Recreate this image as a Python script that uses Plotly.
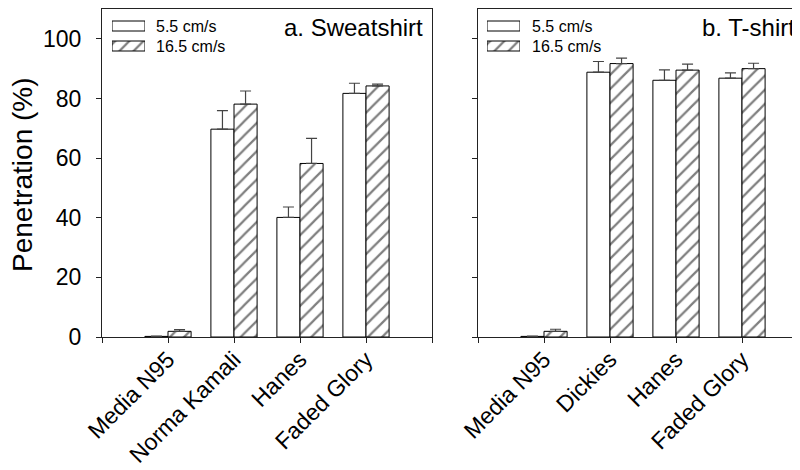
import plotly.graph_objects as go

# ---- data ----
cats_a = ["Media N95", "Norma Kamali", "Hanes", "Faded Glory"]
low_a = [0.2, 69.7, 40.1, 81.7]
low_a_err = [0.1, 6.2, 3.5, 3.4]
high_a = [1.9, 78.1, 58.2, 84.2]
high_a_err = [0.6, 4.4, 8.4, 0.6]

cats_b = ["Media N95", "Dickies", "Hanes", "Faded Glory"]
low_b = [0.2, 88.8, 86.1, 86.8]
low_b_err = [0.1, 3.6, 3.5, 1.8]
high_b = [1.9, 91.7, 89.5, 90.0]
high_b_err = [0.7, 1.8, 2.0, 1.8]

series_names = ["5.5 cm/s", "16.5 cm/s"]
panel_titles = ["a. Sweatshirt", "b. T-shirt"]
yticks = [0, 20, 40, 60, 80, 100]

FONT = "Liberation Sans, Arial, sans-serif"
LINE = "#222222"

# ---- layout geometry (screen pixels; page body has an 8px margin) ----
OFF = 8
W, H = 800 - OFF, 470 - OFF
L = 102 - OFF
T = 9 - OFF
B = H - (337 - OFF)
PW = W - L
PH = H - T - B

def px_x(p):
    return (p - OFF - L) / PW

def px_y(p):
    return (H - B - (p - OFF)) / PH

fig = go.Figure()

pos_a = [i + 1 for i in range(len(cats_a))]
pos_b = [i + 1 for i in range(len(cats_b))]

PATTERN = dict(shape="/", size=10, solidity=0.22, fgcolor="black",
               bgcolor="white")

def add_panel(pos, low, low_err, high, high_err, xa, ya):
    fig.add_trace(go.Bar(
        x=pos, y=low, name=series_names[0], xaxis=xa, yaxis=ya,
        marker=dict(color="white", line=dict(color="black", width=1)),
        error_y=dict(type="data", symmetric=False, array=low_err,
                     arrayminus=[0] * len(low), color="#444444",
                     thickness=1.2, width=5.5),
        showlegend=False, hoverinfo="skip"))
    fig.add_trace(go.Bar(
        x=pos, y=high, name=series_names[1], xaxis=xa, yaxis=ya,
        marker=dict(color="white", line=dict(color="black", width=1),
                    pattern=PATTERN),
        error_y=dict(type="data", symmetric=False, array=high_err,
                     arrayminus=[0] * len(high), color="#444444",
                     thickness=1.2, width=5.5),
        showlegend=False, hoverinfo="skip"))

add_panel(pos_a, low_a, low_a_err, high_a, high_a_err, "x", "y")
add_panel(pos_b, low_b, low_b_err, high_b, high_b_err, "x2", "y2")

# legend swatches on small overlay axes
for xa, ya in (("x3", "y3"), ("x4", "y4")):
    fig.add_trace(go.Bar(
        x=[1], y=[1], orientation="h", xaxis=xa, yaxis=ya, width=0.5,
        marker=dict(color="white", line=dict(color="black", width=1)),
        showlegend=False, hoverinfo="skip"))
    fig.add_trace(go.Bar(
        x=[1], y=[0], orientation="h", xaxis=xa, yaxis=ya, width=0.5,
        marker=dict(color="white", line=dict(color="black", width=1),
                    pattern=PATTERN),
        showlegend=False, hoverinfo="skip"))

common_x = dict(showline=True, linecolor=LINE, linewidth=1, mirror=True,
                ticks="outside", ticklen=5, tickcolor=LINE, showgrid=False,
                zeroline=False, tickangle=-45, ticklabelstandoff=-6,
                tickfont=dict(family=FONT, size=23, color="black"))
common_y = dict(showline=True, linecolor=LINE, linewidth=1,
                ticks="outside", ticklen=5, tickcolor=LINE, showgrid=False,
                zeroline=False, range=[0, 110], tickvals=yticks,
                tickfont=dict(family=FONT, size=23, color="black"))

tv = [0, 1, 2, 3, 4, 5]
fig.update_layout(
    width=W, height=H,
    margin=dict(l=L, r=0, t=T, b=B, autoexpand=False),
    plot_bgcolor="white", paper_bgcolor="white",
    barmode="group", bargap=0.3, bargroupgap=0,
    showlegend=False,
    font=dict(family=FONT, color="black"),
    xaxis=dict(domain=[0, px_x(432)], range=[0, 5], tickvals=tv,
               ticktext=[""] + cats_a + [""], **common_x),
    xaxis2=dict(domain=[px_x(478), 1], range=[0, 5 * (800 - 478) / 330],
                tickvals=tv, ticktext=[""] + cats_b + [""], anchor="y2",
                **common_x),
    yaxis=dict(anchor="x", mirror=True, ticklabelstandoff=10, **common_y),
    yaxis2=dict(anchor="x2", mirror=False, showticklabels=False, **common_y),
    xaxis3=dict(domain=[px_x(112), px_x(145)], range=[0, 1], anchor="y3",
                visible=False),
    yaxis3=dict(domain=[px_y(56), px_y(16)], range=[-0.5, 1.5], anchor="x3",
                visible=False),
    xaxis4=dict(domain=[px_x(487), px_x(520)], range=[0, 1], anchor="y4",
                visible=False),
    yaxis4=dict(domain=[px_y(56), px_y(16)], range=[-0.5, 1.5], anchor="x4",
                visible=False),
)

annotations = []
for x0 in (154, 530):
    for name, yy in zip(series_names, (26, 46)):
        annotations.append(dict(text=name, xref="paper", yref="paper",
                                x=px_x(x0), y=px_y(yy), xanchor="left",
                                yanchor="middle", showarrow=False,
                                font=dict(family=FONT, size=16, color="black")))
for title, xr in zip(panel_titles, (425, 797)):
    annotations.append(dict(text=title, xref="paper", yref="paper",
                            x=px_x(xr), y=px_y(27), xanchor="right",
                            yanchor="middle", showarrow=False,
                            font=dict(family=FONT, size=24, color="black")))
annotations.append(dict(text="Penetration (%)", xref="paper", yref="paper",
                        x=px_x(22), y=px_y(175), xanchor="center",
                        yanchor="middle", textangle=-90, showarrow=False,
                        font=dict(family=FONT, size=28, color="black")))
fig.update_layout(annotations=annotations)

fig.write_html("out.html")
